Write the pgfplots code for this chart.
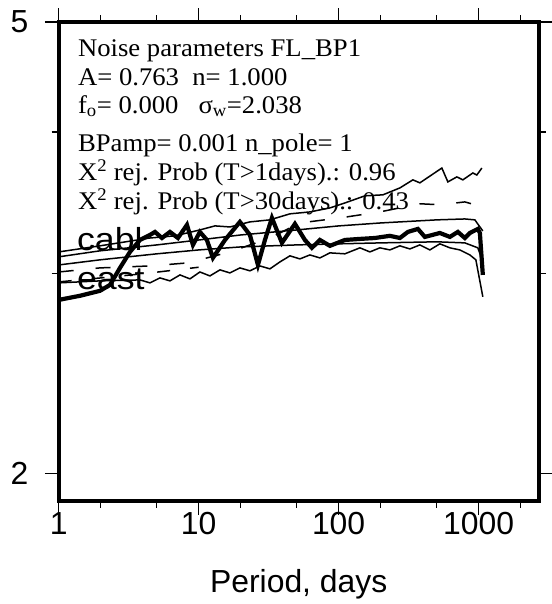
\documentclass[border=0pt]{standalone}
\usepackage{pgfplots}
\pgfplotsset{compat=1.18}
\usepackage{fontspec}
\setmainfont{Liberation Serif}
\newfontfamily\wideserif[FakeStretch=1.05]{Liberation Serif}
\newfontfamily\hv{Liberation Sans}
\newfontfamily\widehv[FakeStretch=1.12]{Liberation Sans}
\begin{document}
\begin{tikzpicture}
\begin{axis}[name=ax, at={(0,0)}, anchor=south west,
 scale only axis, width=480bp, height=479bp,
 xmode=log, ymode=log, xmin=1, xmax=2690, ymin=1.892, ymax=5,
 xtick={1,10,100,1000}, xticklabels={1,10,100,1000},
 minor xtick={2,5,20,50,200,500,2000},
 ytick={2,5}, yticklabels={2,5}, minor ytick={3,4},
 tick align=outside, major tick length=14bp, minor tick length=7bp,
 every tick/.style={black, line width=1.2bp},
 axis line style={line width=3.8bp},
 ticklabel style={font=\hv\fontsize{32}{32}\selectfont},
 xticklabel style={yshift=6bp},
 yticklabel style={xshift=-13bp},
 xlabel={Period, days},
 xlabel style={font=\hv\fontsize{32}{32}\selectfont, at={(axis description cs:0.5,0)}, anchor=base, yshift=-92bp},
 clip=true]
% upper bound
\addplot[black, line width=1.5bp] coordinates {(1,3.136)(1.972,3.175)(4.489,3.226)(6.771,3.240)(10.21,3.279)(13.08,3.306)(16.73,3.299)(23.25,3.333)(32.31,3.347)(44.89,3.388)(62.37,3.401)(86.68,3.429)(110.9,3.464)(154.1,3.514)(207.2,3.521)(274.1,3.571)(339.4,3.630)(380.8,3.608)(546.8,3.718)(603.5,3.615)(699.8,3.652)(772.4,3.630)(910.7,3.681)(972.5,3.666)(1056,3.718)};
% smooth model
\addplot[black, line width=1.5bp] coordinates {(1,3.105)(1.972,3.143)(5.036,3.181)(10.05,3.213)(20.05,3.246)(50.37,3.279)(100.5,3.306)(200.5,3.326)(503.7,3.347)(798.2,3.353)(941.0,3.347)(1073,3.272)};
% second thin line
\addplot[black, line width=1.5bp] coordinates {(1,3.054)(1.972,3.086)(5.036,3.124)(10.05,3.149)(20.05,3.168)(50.37,3.181)(100.5,3.188)(200.5,3.194)(503.7,3.201)(798.2,3.194)(988.5,3.162)(1073,3.073)};
% lower bound
\addplot[black, line width=1.5bp] coordinates {(1,2.945)(1.972,2.957)(3.808,2.963)(4.489,2.945)(5.291,2.975)(6.237,2.957)(7.352,2.993)(8.668,2.969)(10.21,3.011)(12.04,2.987)(14.20,3.024)(16.73,3.005)(19.72,3.036)(23.25,3.018)(27.41,3.048)(32.31,3.030)(38.08,3.073)(44.89,3.111)(52.91,3.092)(62.37,3.117)(73.52,3.098)(86.68,3.130)(110.9,3.124)(142.0,3.162)(167.3,3.136)(197.2,3.162)(232.5,3.149)(274.1,3.175)(323.1,3.155)(380.8,3.181)(448.9,3.149)(529.1,3.188)(623.7,3.162)(735.2,3.149)(866.8,3.117)(956.7,3.086)(1073,2.863)};
% dashed lines
\addplot[black, line width=1.5bp, dash pattern=on 15bp off 22bp] coordinates {(1,3.011)(1.972,3.036)(4.489,3.048)(8.387,3.067)(16.73,3.136)(32.31,3.226)(52.91,3.326)(102.2,3.360)(197.2,3.401)(380.8,3.458)(529.1,3.451)(798.2,3.471)(941.0,3.451)};
\addplot[black, line width=1.5bp, dash pattern=on 13bp off 20bp] coordinates {(1,2.951)(2,2.975)(4,3.000)(8,3.030)(10,3.040)};
% observed (thick)
\addplot[black, line width=4.2bp, line join=miter] coordinates {(1,2.845)(1.420,2.869)(1.972,2.898)(2.325,2.933)(2.741,3.036)(3.231,3.136)(3.808,3.213)(4.489,3.246)(4.874,3.266)(5.469,3.226)(6.237,3.266)(7.114,3.226)(8.249,3.313)(9.106,3.181)(10.21,3.266)(11.46,3.213)(12.65,3.098)(15.42,3.213)(19.72,3.333)(23.25,3.246)(26.52,3.054)(29.76,3.213)(33.39,3.360)(39.36,3.194)(48.74,3.320)(57.45,3.213)(64.47,3.162)(73.52,3.213)(86.68,3.175)(110.9,3.213)(142.0,3.220)(181.7,3.226)(232.5,3.240)(274.1,3.226)(312.6,3.266)(368.5,3.286)(413.5,3.233)(529.1,3.259)(623.7,3.233)(711.4,3.266)(798.2,3.226)(866.8,3.259)(988.5,3.286)(1022,3.259)(1073,2.993)};
% text
\node[anchor=base west, inner sep=0, font=\wideserif\fontsize{25.5}{25.5}\selectfont] at (rel axis cs:0.040,0.927) {Noise parameters FL\_BP1};
\node[anchor=base west, inner sep=0, font=\wideserif\fontsize{25.5}{25.5}\selectfont] at (rel axis cs:0.040,0.868) {A= 0.763\ \ n= 1.000};
\node[anchor=base west, inner sep=0, font=\wideserif\fontsize{25.5}{25.5}\selectfont] at (rel axis cs:0.040,0.810) {f\textsubscript{o}= 0.000\ \ \ σ\textsubscript{w}=2.038};
\node[anchor=base west, inner sep=0, font=\wideserif\fontsize{25.5}{25.5}\selectfont] at (rel axis cs:0.040,0.729) {BPamp= 0.001 n\_pole= 1};
\node[anchor=base west, inner sep=0, font=\wideserif\fontsize{25.5}{25.5}\selectfont] at (rel axis cs:0.040,0.670) {X\textsuperscript{2} rej. Prob (T>1days).: 0.96};
\node[anchor=base west, inner sep=0, font=\wideserif\fontsize{25.5}{25.5}\selectfont] at (rel axis cs:0.040,0.608) {X\textsuperscript{2} rej. Prob (T>30days).: 0.43};
\node[anchor=base west, inner sep=0, font=\widehv\fontsize{32}{32}\selectfont] at (rel axis cs:0.038,0.522) {cabl};
\node[anchor=base west, inner sep=0, font=\widehv\fontsize{32}{32}\selectfont] at (rel axis cs:0.038,0.4405) {east};
\end{axis}
\pgfresetboundingbox
\path[use as bounding box] ([shift={(-58.7bp,-103bp)}]ax.south west) rectangle ([shift={(13bp,22bp)}]ax.north east);
\end{tikzpicture}
\end{document}
